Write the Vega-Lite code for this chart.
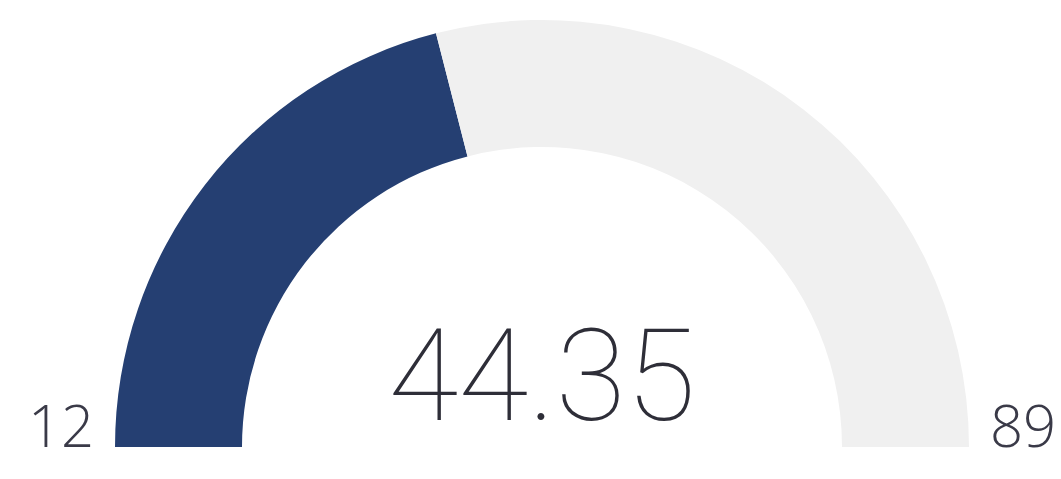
{
  "$schema": "https://vega.github.io/schema/vega-lite/v6.json",
  "autosize": "none",
  "width": 1000,
  "height": 60,
  "padding": {"left": 42, "top": 417, "right": 19, "bottom": 2},
  "background": "white",
  "config": {"view": {"stroke": null}},
  "datasets": {
    "arcs": [
      {"part": "value", "start": 12, "end": 44.35},
      {"part": "rest", "start": 44.35, "end": 89}
    ],
    "ends": [
      {"label": "12", "v": 12},
      {"label": "89", "v": 89}
    ],
    "center": [{"label": "44.35"}]
  },
  "layer": [
    {
      "data": {"name": "arcs"},
      "mark": {"type": "arc", "innerRadius": 300, "outerRadius": 427},
      "encoding": {
        "theta": {"field": "start", "type": "quantitative", "scale": {"domain": [12, 89], "range": [-1.5708, 1.5708]}},
        "theta2": {"field": "end"},
        "color": {"field": "part", "type": "nominal", "scale": {"domain": ["value", "rest"], "range": ["#253f72", "#f0f0f0"]}, "legend": null}
      }
    },
    {
      "data": {"name": "ends"},
      "mark": {"type": "text", "font": "Open Sans", "fontWeight": 300, "fontSize": 58, "color": "#3a3a48", "align": "center", "baseline": "alphabetic"},
      "encoding": {
        "theta": {"field": "v", "type": "quantitative"},
        "radius": {"value": 481},
        "text": {"field": "label"}
      }
    },
    {
      "data": {"name": "center"},
      "mark": {"type": "text", "font": "Roboto", "fontWeight": 100, "fontSize": 128, "color": "#2e2e38", "align": "center", "baseline": "alphabetic", "dy": -27},
      "encoding": {
        "text": {"field": "label"}
      }
    }
  ]
}
